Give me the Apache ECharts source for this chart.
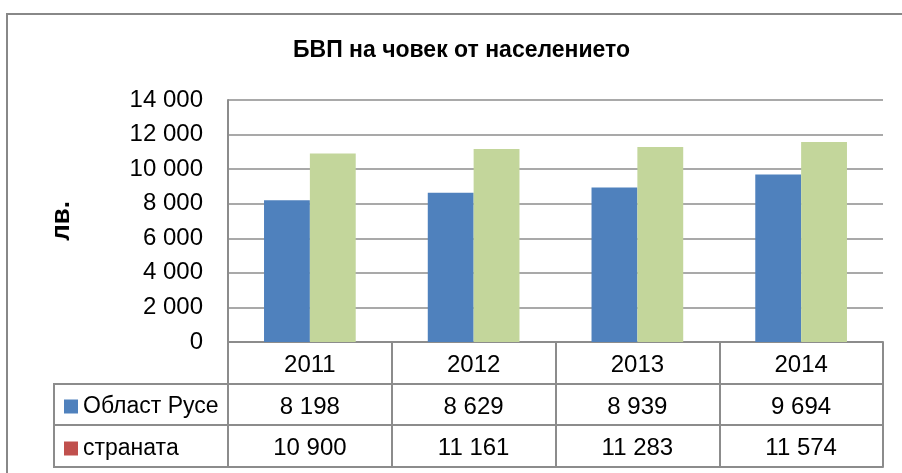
<!DOCTYPE html>
<html>
<head>
<meta charset="utf-8">
<script src="https://cdn.jsdelivr.net/npm/echarts@6/dist/echarts.min.js"></script>
<style>
html,body{margin:0;padding:0;background:#fff;}
#c{width:902px;height:473px;}
</style>
</head>
<body>
<div id="c"></div>
<script>
const categories = ['2011', '2012', '2013', '2014'];
const seriesNames = ['Област Русе', 'страната'];
const ruse = [8198, 8629, 8939, 9694];
const country = [10900, 11161, 11283, 11574];
const yTicks = { min: 0, max: 14000, interval: 2000 };

const FONT = 'Liberation Sans, Arial, sans-serif';
const LINE = '#8c8c8c';
const fmt = v => String(v).replace(/\B(?=(\d{3})+(?!\d))/g, ' ');

const chart = echarts.init(document.getElementById('c'));

const tableAxis = (offset, values, showLabel) => ({
  type: 'category',
  gridIndex: 0,
  position: 'bottom',
  offset: offset,
  data: categories,
  axisLine: { show: true, lineStyle: { color: LINE, width: 2 } },
  axisTick: { show: showLabel, length: 42, interval: 0, lineStyle: { color: LINE, width: 2 } },
  axisLabel: {
    show: showLabel,
    interval: 0,
    margin: 11,
    color: '#000',
    fontFamily: FONT,
    fontSize: 24,
    formatter: (v, i) => values ? fmt(values[i]) : v
  },
  splitLine: { show: false }
});

chart.setOption({
  animation: false,
  backgroundColor: '#fff',
  title: {
    text: 'БВП на човек от населението',
    left: 293,
    top: 39,
    padding: 0,
    textStyle: { fontFamily: FONT, fontWeight: 'bold', fontSize: 23, color: '#000' }
  },
  legend: {
    orient: 'vertical',
    left: 64,
    top: 395,
    padding: 0,
    itemWidth: 14,
    itemHeight: 14,
    itemGap: 19,
    icon: 'rect',
    selectedMode: false,
    textStyle: { fontFamily: FONT, fontSize: 23, color: '#000', lineHeight: 23 },
    data: [
      { name: seriesNames[0], itemStyle: { color: '#4F81BD' } },
      { name: seriesNames[1], itemStyle: { color: '#C0504D' } }
    ]
  },
  grid: { left: 228, right: 19, top: 100, bottom: 131, containLabel: false },
  xAxis: [
    tableAxis(0, null, true),
    tableAxis(42, ruse, true),
    tableAxis(83, country, true),
    tableAxis(125, null, false)
  ],
  yAxis: {
    type: 'value',
    min: yTicks.min,
    max: yTicks.max,
    interval: yTicks.interval,
    name: 'лв.',
    nameLocation: 'middle',
    nameRotate: 90,
    nameGap: 153,
    nameTextStyle: { fontFamily: FONT, fontWeight: 'bold', fontSize: 26, color: '#000' },
    axisLine: { show: true, lineStyle: { color: LINE, width: 2 } },
    axisTick: { show: false },
    axisLabel: { margin: 25, color: '#000', fontFamily: FONT, fontSize: 24, formatter: v => fmt(v) },
    splitLine: { lineStyle: { color: LINE, width: 1.5 } }
  },
  series: [
    {
      name: seriesNames[0], type: 'bar', xAxisIndex: 0, data: ruse,
      barGap: '0%', barCategoryGap: '44%',
      itemStyle: { color: '#4F81BD' }
    },
    {
      name: seriesNames[1], type: 'bar', xAxisIndex: 0, data: country,
      barGap: '0%', barCategoryGap: '44%',
      itemStyle: { color: '#C3D69B' }
    }
  ],
  graphic: [
    { type: 'rect', shape: { x: 7, y: 14, width: 1000, height: 1000 }, style: { fill: null, stroke: '#888', lineWidth: 2 }, silent: true },
    { type: 'line', shape: { x1: 54, y1: 384, x2: 228, y2: 384 }, style: { stroke: LINE, lineWidth: 2 } },
    { type: 'line', shape: { x1: 54, y1: 425, x2: 228, y2: 425 }, style: { stroke: LINE, lineWidth: 2 } },
    { type: 'line', shape: { x1: 54, y1: 467, x2: 228, y2: 467 }, style: { stroke: LINE, lineWidth: 2 } },
    { type: 'line', shape: { x1: 54, y1: 383, x2: 54, y2: 468 }, style: { stroke: LINE, lineWidth: 2 } }
  ]
});
</script>
</body>
</html>
